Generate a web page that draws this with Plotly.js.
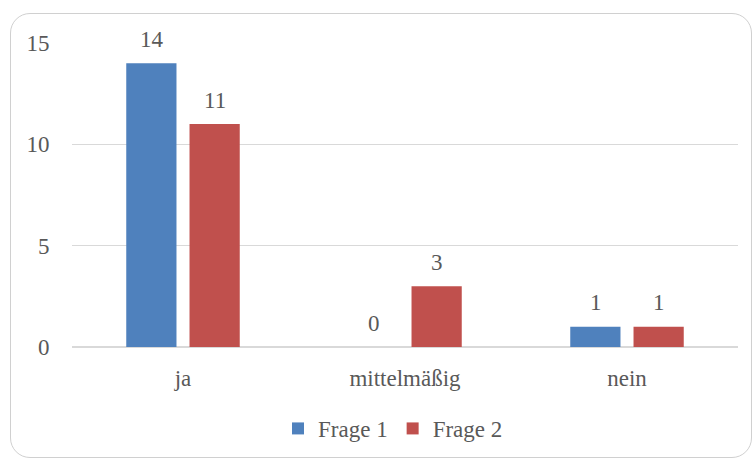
<!DOCTYPE html>
<html><head><meta charset="utf-8">
<script src="https://cdn.plot.ly/plotly-3.0.1.min.js"></script>
<style>
body{margin:0;padding:0;background:#fff;}
#wrap{position:relative;width:755px;height:462px;}
#frame{position:absolute;left:10px;top:13px;width:742px;height:445px;border:1.5px solid #D0D0D0;border-radius:20px;box-sizing:border-box;pointer-events:none;}
#chart{position:absolute;left:0;top:0;width:755px;height:462px;}
#warm{position:absolute;left:0;top:0;color:rgba(255,255,255,0);font-family:'Liberation Serif';font-size:23px;white-space:nowrap;}
</style></head>
<body><div id="wrap"><div id="warm">Frage 1 2 mittelmäßig ja nein 0123456789</div><div id="chart"></div><div id="frame"></div></div>
<script>
const categories = ['ja', 'mittelmäßig', 'nein'];
const frage1 = [14, 0, 1];
const frage2 = [11, 3, 1];
const seriesNames = ['Frage 1', 'Frage 2'];
const yTicks = [0, 5, 10, 15];

function mkFont() { return {family: 'Liberation Serif', size: 23, color: '#595959'}; }
const colors = ['#4F81BD', '#C0504D'];
const series = [frage1, frage2];
const traces = series.map((vals, i) => ({
  type:'bar', name:seriesNames[i], x:categories, y:vals, marker:{color:colors[i]}, cliponaxis:false
}));
const annotations = [];
series.forEach((vals, i) => {
  vals.forEach((v, j) => {
    annotations.push({x:categories[j], y:v, xref:'x', yref:'y', text:String(v), showarrow:false,
      xshift: i === 0 ? -31.5 : 31.5, yshift:24, yanchor:'middle', xanchor:'center', font:mkFont()});
  });
});
const layout = {
  width:755, height:462,
  margin:{l:72, r:17, t:43, b:112},
  paper_bgcolor:'rgba(0,0,0,0)', plot_bgcolor:'rgba(0,0,0,0)',
  font:mkFont(),
  barmode:'group', bargap:0.43, bargroupgap:0.206,
  showlegend:true,
  legend:{orientation:'h', x:0.482, xanchor:'center', y:-0.268, yanchor:'middle', font:mkFont(), itemwidth:30, tracegroupgap:0},
  annotations:annotations,
  xaxis:{type:'category', showgrid:false, showline:false, ticks:'outside', ticklen:10, tickcolor:'rgba(0,0,0,0)', tickfont:mkFont(), automargin:false},
  yaxis:{range:[0,15], tickvals:yTicks, ticktext:yTicks.map(String), showgrid:true, gridcolor:'#D9D9D9', gridwidth:1.5,
         zeroline:true, zerolinecolor:'#D9D9D9', zerolinewidth:1.5, showline:false,
         ticks:'outside', ticklen:17, tickcolor:'rgba(0,0,0,0)', tickfont:mkFont(), automargin:false}
};
function draw() {
  Plotly.newPlot('chart', traces, layout, {displayModeBar:false, staticPlot:true}).then(() => {
    document.querySelectorAll('#chart text').forEach(t => { void getComputedStyle(t).fontFamily; });
    void document.body.offsetHeight;
  });
}
const fontWait = (document.fonts && document.fonts.load) ? document.fonts.load('23px "Liberation Serif"', 'Frage') : Promise.resolve();
draw();
fontWait.then(() => Plotly.redraw('chart')).catch(() => {});
</script></body></html>
